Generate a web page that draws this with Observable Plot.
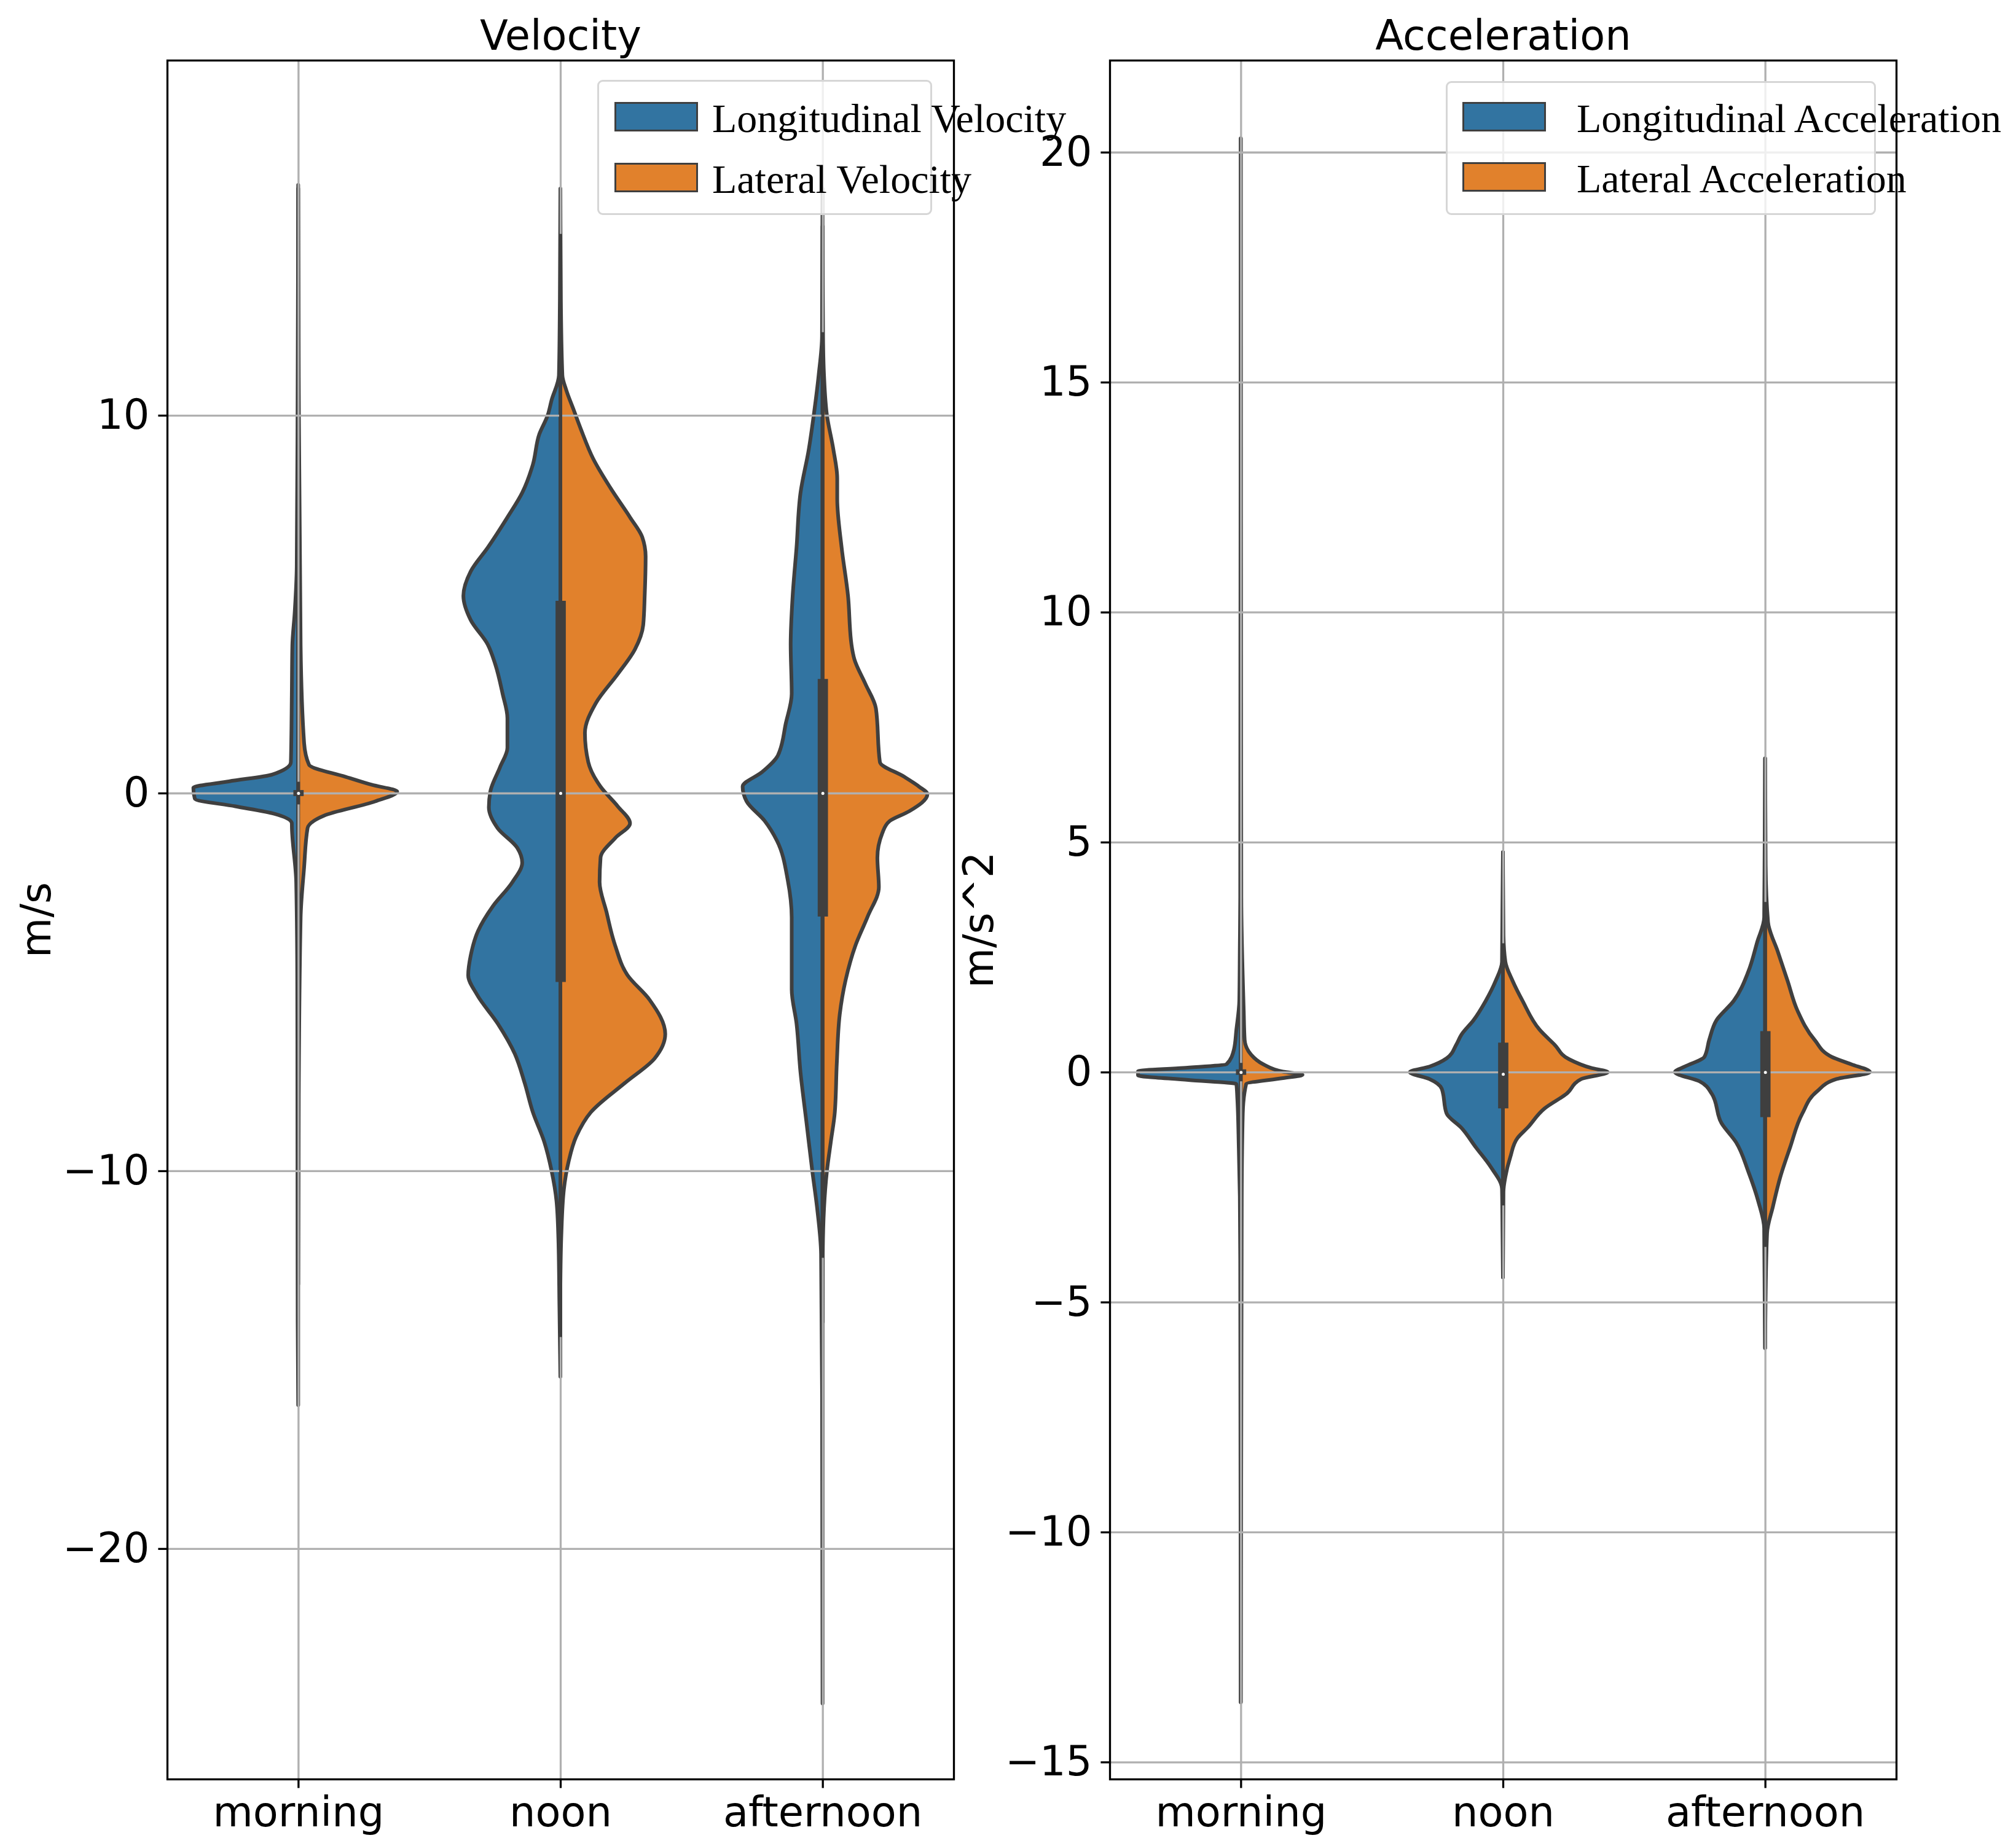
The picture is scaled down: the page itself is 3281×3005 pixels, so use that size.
<!DOCTYPE html>
<html lang="en">
<head>
<meta charset="UTF-8">
<title>Velocity and Acceleration</title>
<script src="https://cdn.jsdelivr.net/npm/d3@7"></script>
<script src="https://cdn.jsdelivr.net/npm/@observablehq/plot@0.6"></script>
<style>
  body { margin: 0; background: white; }
  #chart { position: relative; width: 3281px; height: 3005px; }
  #chart svg { position: absolute; top: 0; overflow: visible; background: transparent; max-width: none; }
  .legend { position: absolute; border: 3px solid #d6d6d6; border-radius: 9px; background: rgba(255,255,255,0.8); box-sizing: border-box; }
  .legend .sw { position: absolute; width: 136px; height: 48px; border: 3.5px solid #3f3f3f; box-sizing: border-box; }
  .legend .lb { position: absolute; font-family: "Liberation Serif"; font-size: 66px; line-height: 66px; white-space: nowrap; color: black; }
</style>
</head>
<body>
<div id="chart"></div>
<script>
const categories = ["morning", "noon", "afternoon"];
const velSeries = ["Longitudinal Velocity", "Lateral Velocity"];
const accSeries = ["Longitudinal Acceleration", "Lateral Acceleration"];
const colors = ["#3274a1", "#e1812c"];
const velTicks = [-20, -10, 0, 10];
const accTicks = [-15, -10, -5, 0, 5, 10, 15, 20];

// violin profiles: [value, relative half width] (1 = widest half)
const velMorningLon = [[16.1,0],[11,0.005],[6,0.014],[4.8,0.033],[3.9,0.056],[2.6,0.061],[0.82,0.07],[0.49,0.248],[0.31,0.66],[0.14,1.0],[-0.15,0.986],[-0.35,0.6],[-0.55,0.224],[-0.8,0.061],[-0.93,0.06],[-2.36,0.019],[-5,0.009],[-14,0.005],[-16.2,0]];
const velMorningLat = [[16,0],[11,0.005],[3.9,0.023],[1.33,0.056],[0.75,0.103],[0.43,0.453],[0.22,0.70],[0.04,0.944],[-0.22,0.734],[-0.6,0.243],[-0.93,0.089],[-1.97,0.056],[-3.3,0.023],[-8,0.005],[-13,0]];
const velNoonLon = [[15.9,0],[13,0.005],[11.06,0.014],[10.4,0.084],[10,0.121],[9.5,0.201],[8.7,0.262],[7.95,0.364],[7.3,0.505],[6.5,0.692],[5.87,0.855],[5.22,0.925],[4.58,0.855],[3.93,0.692],[3.41,0.621],[2.63,0.551],[1.98,0.505],[1.2,0.505],[0.69,0.575],[0.04,0.668],[-0.38,0.682],[-0.93,0.598],[-1.45,0.411],[-1.84,0.364],[-2.36,0.458],[-3,0.645],[-3.65,0.785],[-4.3,0.855],[-4.82,0.879],[-5.34,0.794],[-6.1,0.598],[-6.9,0.435],[-7.67,0.341],[-8.45,0.262],[-9.23,0.154],[-10,0.084],[-10.8,0.037],[-11.8,0.019],[-13.6,0.009],[-15.45,0]];
const velNoonLat = [[16,0],[13,0.005],[11.06,0.019],[10.67,0.056],[10.15,0.126],[9.63,0.196],[8.85,0.313],[8.08,0.477],[7.3,0.664],[6.78,0.78],[6.26,0.813],[5.22,0.804],[4.45,0.79],[3.8,0.71],[3.15,0.547],[2.37,0.336],[1.59,0.234],[0.82,0.266],[0.17,0.383],[-0.35,0.547],[-0.8,0.664],[-1.19,0.523],[-1.71,0.383],[-2.36,0.374],[-3.14,0.439],[-4.04,0.523],[-4.82,0.64],[-5.47,0.85],[-6.38,1.0],[-7.03,0.897],[-7.67,0.617],[-8.45,0.29],[-9.1,0.15],[-9.75,0.079],[-10.5,0.033],[-11.7,0.009],[-13,0]];
const velAfternoonLon = [[16,0],[12.1,0.005],[11.06,0.037],[10,0.084],[9.1,0.131],[7.95,0.21],[6.5,0.248],[5.22,0.285],[3.93,0.304],[2.63,0.294],[1.85,0.35],[1,0.425],[0.56,0.575],[0.17,0.762],[-0.22,0.724],[-0.74,0.551],[-1.26,0.435],[-2.3,0.332],[-3.3,0.294],[-5.2,0.294],[-6.1,0.248],[-7.4,0.21],[-8.7,0.154],[-10,0.098],[-11,0.051],[-12.2,0.014],[-16,0.004],[-24.1,0]];
const velAfternoonLat = [[15,0],[12.1,0.005],[11.06,0.014],[10,0.042],[9.1,0.103],[8.33,0.14],[7.8,0.14],[6.5,0.182],[5.22,0.243],[3.93,0.276],[3.54,0.304],[2.9,0.407],[2.24,0.509],[0.82,0.547],[0.43,0.78],[0.17,0.921],[-0.03,1.0],[-0.48,0.827],[-0.74,0.64],[-1.06,0.57],[-1.71,0.523],[-2.49,0.537],[-3.27,0.43],[-4.04,0.313],[-4.95,0.22],[-5.86,0.164],[-7.15,0.136],[-8.45,0.117],[-9.23,0.079],[-10,0.042],[-11,0.014],[-12.3,0.002],[-14,0]];

const accMorningLon = [[20.3,0],[3.8,0.005],[2.72,0.009],[1.55,0.014],[0.92,0.042],[0.49,0.065],[0.17,0.136],[0.09,0.55],[0.02,0.98],[-0.07,0.98],[-0.17,0.5],[-0.26,0.042],[-0.57,0.033],[-1.64,0.019],[-2.7,0.009],[-4.1,0.005],[-13.7,0]];
const accMorningLat = [[20.3,0],[3.8,0.005],[1.34,0.028],[0.7,0.037],[0.38,0.098],[0.17,0.215],[0.01,0.402],[-0.06,0.589],[-0.13,0.402],[-0.26,0.051],[-0.9,0.019],[-2.7,0.009],[-13.7,0]];
const accNoonLon = [[4.78,0],[3.5,0.005],[2.4,0.009],[1.98,0.07],[1.55,0.164],[1.13,0.28],[0.81,0.397],[0.6,0.444],[0.3,0.537],[0.12,0.701],[0,0.888],[-0.15,0.701],[-0.36,0.584],[-0.9,0.537],[-1.21,0.397],[-1.64,0.257],[-2.06,0.117],[-2.54,0.009],[-3.5,0.004],[-4.46,0]];
const accNoonLat = [[4.78,0],[3,0.005],[2.4,0.023],[1.98,0.093],[1.55,0.187],[0.92,0.35],[0.6,0.491],[0.28,0.631],[0.09,0.841],[0,1.0],[-0.15,0.748],[-0.47,0.607],[-0.79,0.397],[-1.21,0.234],[-1.43,0.14],[-1.85,0.07],[-2.28,0.023],[-2.6,0.005],[-4.46,0]];
const accAfternoonLon = [[6.82,0],[4.64,0.005],[3.36,0.009],[2.83,0.075],[2.19,0.159],[1.55,0.299],[1.13,0.463],[0.7,0.533],[0.33,0.579],[0.12,0.766],[0,0.86],[-0.2,0.626],[-0.47,0.509],[-1.11,0.416],[-1.53,0.276],[-2.17,0.159],[-2.81,0.065],[-3.4,0.009],[-5,0.004],[-6,0]];
const accAfternoonLat = [[6.82,0],[4.5,0.005],[3.26,0.028],[2.62,0.121],[1.98,0.215],[1.34,0.308],[0.7,0.472],[0.33,0.636],[0.17,0.822],[0,1.0],[-0.15,0.682],[-0.42,0.495],[-0.9,0.355],[-1.64,0.238],[-2.28,0.145],[-2.92,0.075],[-3.5,0.019],[-5,0.004],[-6,0]];

// inner box: quartiles, median, whisker ends
const velQ1 = [-0.08, -5.0, -3.27];
const velQ3 = [0.08, 5.09, 3.02];
const velMed = [0, 0, 0];
const velLo = [-0.3, -14.4, -12.3];
const velHi = [0.3, 14.8, 12.2];
const accQ1 = [-0.06, -0.79, -0.98];
const accQ3 = [0.06, 0.64, 0.89];
const accMed = [0, -0.04, 0];
const accLo = [-0.2, -2.9, -3.8];
const accHi = [0.2, 2.8, 3.7];

const dark = "#3f3f3f";
const minus = t => String(t).replace("-", "\u2212");

function panel(o) {
  const rows = [];
  o.profiles.forEach((pair, c) => pair.forEach((prof, s) => {
    prof.slice().sort((a, b) => a[0] - b[0]).forEach(([v, d]) => rows.push({c, s, v, d, name: o.series[s]}));
  }));
  const stats = categories.map((name, c) => ({c, q1: o.q1[c], q3: o.q3[c], med: o.med[c], lo: o.lo[c], hi: o.hi[c]}));
  return Plot.plot({
    width: o.width,
    height: 3005,
    marginLeft: o.marginLeft,
    marginRight: o.marginRight,
    marginTop: 98,
    marginBottom: 109,
    style: {fontFamily: "DejaVu Sans", fontSize: "67px", color: "black", background: "transparent", overflow: "visible"},
    x: {domain: [-0.5, 2.5]},
    y: {domain: o.domain},
    color: {domain: o.series, range: colors},
    marks: [
      Plot.areaX(rows, {
        y: "v",
        x1: r => r.s === 0 ? r.c - 0.4 * r.d : r.c,
        x2: r => r.s === 0 ? r.c : r.c + 0.4 * r.d,
        z: r => r.c * 2 + r.s,
        fill: "name",
        stroke: dark,
        strokeWidth: 6,
        strokeLinejoin: "round",
        curve: "monotone-y"
      }),
      Plot.ruleY(o.ticks, {stroke: "#b0b0b0", strokeWidth: 3.3}),
      Plot.ruleX([0, 1, 2], {stroke: "#b0b0b0", strokeWidth: 3.3}),
      Plot.ruleX(stats, {x: "c", y1: "lo", y2: "hi", stroke: dark, strokeWidth: 5}),
      Plot.ruleX(stats, {x: "c", y1: "q1", y2: "q3", stroke: dark, strokeWidth: 16.7}),
      Plot.dot(stats, {x: "c", y: "med", r: 2.5, fill: "white"}),
      Plot.frame({stroke: "black", strokeWidth: 3.3}),
      Plot.axisY(o.ticks, {tickFormat: minus, tickSize: 14.6, tickPadding: 14.6, strokeWidth: 3.3, fontSize: 67, label: null}),
      Plot.axisX([0, 1, 2], {tickFormat: i => categories[i], tickSize: 14.6, tickPadding: 14.6, strokeWidth: 3.3, fontSize: 67, label: null}),
      Plot.text([o.title], {text: d => d, frameAnchor: "top", dy: -39, lineAnchor: "middle", fontSize: 67}),
      Plot.text([o.label], {text: d => d, frameAnchor: "left", dx: -212, rotate: -90, textAnchor: "middle", lineAnchor: "middle", fontSize: 67})
    ]
  });
}

function legend(series, box) {
  const div = document.createElement("div");
  div.className = "legend";
  Object.assign(div.style, {left: box.left + "px", top: box.top + "px", width: box.width + "px", height: box.height + "px"});
  series.forEach((name, i) => {
    const sw = document.createElement("div");
    sw.className = "sw";
    Object.assign(sw.style, {left: box.swLeft + "px", top: (box.swTop + i * box.step) + "px", background: colors[i]});
    const lb = document.createElement("div");
    lb.className = "lb";
    lb.textContent = name;
    Object.assign(lb.style, {left: box.textLeft + "px", top: (box.textTop + i * box.step) + "px"});
    div.append(sw, lb);
  });
  return div;
}

const chart = document.querySelector("#chart");

const vel = panel({
  title: "Velocity", label: "m/s", series: velSeries,
  profiles: [[velMorningLon, velMorningLat], [velNoonLon, velNoonLat], [velAfternoonLon, velAfternoonLat]],
  q1: velQ1, q3: velQ3, med: velMed, lo: velLo, hi: velHi,
  domain: [-26.1, 19.4], ticks: velTicks,
  width: 1600, marginLeft: 272, marginRight: 48
});
vel.style.left = "0px";

const acc = panel({
  title: "Acceleration", label: "m/s^2", series: accSeries,
  profiles: [[accMorningLon, accMorningLat], [accNoonLon, accNoonLat], [accAfternoonLon, accAfternoonLat]],
  q1: accQ1, q3: accQ3, med: accMed, lo: accLo, hi: accHi,
  domain: [-15.37, 22], ticks: accTicks,
  width: 1781, marginLeft: 306, marginRight: 195
});
acc.style.left = "1500px";

chart.append(vel, acc);
chart.append(legend(velSeries, {left: 972, top: 130, width: 545, height: 220, swLeft: 25, swTop: 33, step: 99, textLeft: 184, textTop: 27}));
chart.append(legend(accSeries, {left: 2353, top: 132, width: 700, height: 218, swLeft: 24, swTop: 31, step: 98, textLeft: 210, textTop: 25}));
</script>
</body>
</html>
